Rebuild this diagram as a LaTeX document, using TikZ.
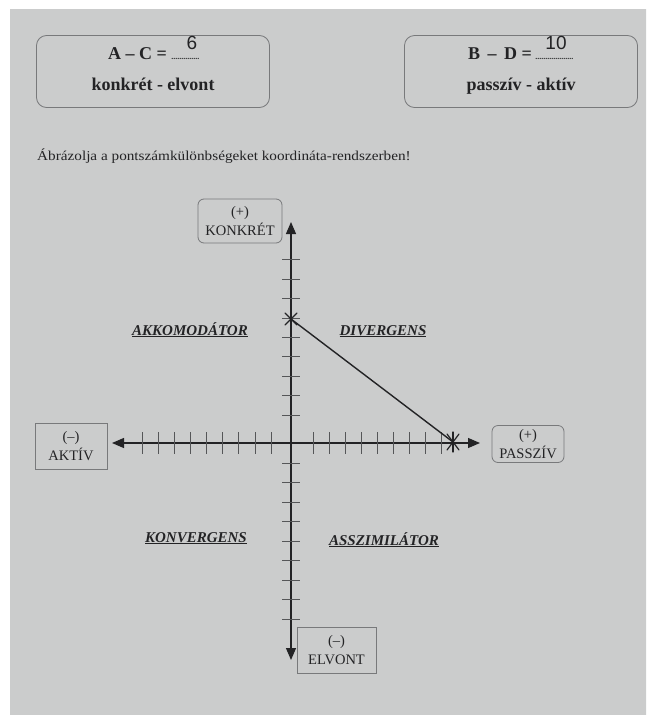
\documentclass[tikz,border=0pt]{standalone}
\usepackage{fontspec}
\setmainfont{Liberation Serif}
\newfontfamily\wideserif[FakeStretch=1.12]{Liberation Serif}
\newfontfamily\handfont{Liberation Sans}
\usetikzlibrary{arrows.meta,calc}
\definecolor{papercenter}{RGB}{203,204,204}
\definecolor{paperedge}{RGB}{172,174,176}
\definecolor{ink}{RGB}{35,35,37}
\definecolor{boxgray}{RGB}{120,121,123}
\definecolor{tickgray}{RGB}{85,86,88}
\pgfdeclareradialshading{paperlight}{\pgfpoint{0bp}{0bp}}{color(0bp)=(papercenter); color(35bp)=(papercenter); color(60bp)=(paperedge); color(75bp)=(paperedge)}
\tikzset{
  topbox/.style={draw=boxgray, line width=0.8pt, rounded corners=10pt, minimum width=233pt, minimum height=72pt, inner sep=0pt},
  boxtext/.style={anchor=base, inner sep=0pt, text=ink, font=\fontsize{18}{20}\selectfont\bfseries},
  dotfill/.style={anchor=base west, inner sep=0pt, text=ink, font=\fontsize{8}{9}\selectfont\bfseries},
  handdigit/.style={anchor=base, inner sep=0pt, text=ink, font=\handfont\fontsize{19}{21}\selectfont},
  axlabel/.style={draw=boxgray, line width=0.8pt, align=center, inner sep=0pt, text=ink, font=\fontsize{14.5}{19}\selectfont},
  quadlabel/.style={anchor=base, inner sep=0pt, text=ink, font=\fontsize{15}{17}\selectfont\bfseries\itshape},
  axisline/.style={draw=ink, line width=1.2pt, {Triangle[length=12pt,width=10pt]}-{Triangle[length=12pt,width=10pt]}},
  tickmark/.style={draw=tickgray, line width=0.8pt},
  plotline/.style={draw=ink, line width=1.4pt},
  crossmark/.style={draw=ink, line width=1.2pt, line cap=round}
}
\begin{document}
\begin{tikzpicture}[x=1pt, y=-1pt]
\useasboundingbox (0,0) rectangle (646,715);
\fill[white] (0,0) rectangle (646,715);
\shade[shading=paperlight] (10,9) rectangle (646,715);

% top boxes
\node[topbox] (boxac) at (153,71.5) {};
\node[topbox] (boxbd) at (521,71.5) {};
\node[boxtext, anchor=base west] (acline) at (108,59) {A -- C =};
\node[dotfill] (acdots) at ($(acline.base east)+(4,0)$) {..............};
\node[handdigit] (acval) at (192,49.5) {6};
\node[boxtext] (acname) at (153,90) {konkrét - elvont};
\node[boxtext, anchor=base west] (bdline) at (468,59) {B \,--\, D =};
\node[dotfill] (bddots) at ($(bdline.base east)+(3,0)$) {...................};
\node[handdigit] (bdval) at (556,49.5) {10};
\node[boxtext] (bdname) at (521,90) {passzív - aktív};

% instruction
\node[anchor=base west, inner sep=0pt, text=ink, font=\wideserif\fontsize{13.6}{15}\selectfont] (instr) at (37,160) {Ábrázolja a pontszámkülönbségeket koordináta-rendszerben!};

% axes
\coordinate (origin) at (291,443);
\coordinate (ytop) at (291,222);
\coordinate (ybot) at (291,660);
\coordinate (xleft) at (112,443);
\coordinate (xright) at (480,443);
\draw[axisline] (ybot) -- (ytop);
\draw[axisline] (xleft) -- (xright);

% ticks
\foreach \k in {0,...,8} {
  \draw[tickmark] (282,{415-19.4*\k}) -- (300,{415-19.4*\k});
  \draw[tickmark] (282,{463+19.5*\k}) -- (300,{463+19.5*\k});
  \draw[tickmark] ({271-16.1*\k},432) -- ({271-16.1*\k},454);
  \draw[tickmark] ({313+16.1*\k},432) -- ({313+16.1*\k},454);
}

% axis labels
\node[axlabel, rounded corners=6pt, minimum width=84pt, minimum height=44pt] (konkret) at (240,221) {(+)\\KONKRÉT};
\node[axlabel, minimum width=72pt, minimum height=46pt] (aktiv) at (71,446) {(--)\\AKTÍV};
\node[axlabel, rounded corners=6pt, minimum width=72pt, minimum height=37pt] (passziv) at (528,444) {(+)\\PASSZÍV};
\node[axlabel, minimum width=79pt, minimum height=46pt] (elvont) at (336.5,650) {(--)\\ELVONT};

% quadrant labels
\node[quadlabel] (akkom) at (190,335) {\underline{AKKOMODÁTOR}};
\node[quadlabel] (diverg) at (383,335) {\underline{DIVERGENS}};
\node[quadlabel] (konverg) at (196,542) {\underline{KONVERGENS}};
\node[quadlabel] (asszim) at (384,545) {\underline{ASSZIMILÁTOR}};

% plotted points
\coordinate (pconc) at (291,319);
\coordinate (ppass) at (453,442);
\draw[plotline] (pconc) -- (ppass);
\draw[crossmark] ($(pconc)+(-6,-6)$) -- ($(pconc)+(6,6)$);
\draw[crossmark] ($(pconc)+(-6,6)$) -- ($(pconc)+(6,-6)$);
\draw[crossmark] ($(ppass)+(-6,-8)$) -- ($(ppass)+(6,8)$);
\draw[crossmark] ($(ppass)+(-6,8)$) -- ($(ppass)+(6,-8)$);
\draw[crossmark] ($(ppass)+(0,-10)$) -- ($(ppass)+(0,10)$);
\end{tikzpicture}
\end{document}
